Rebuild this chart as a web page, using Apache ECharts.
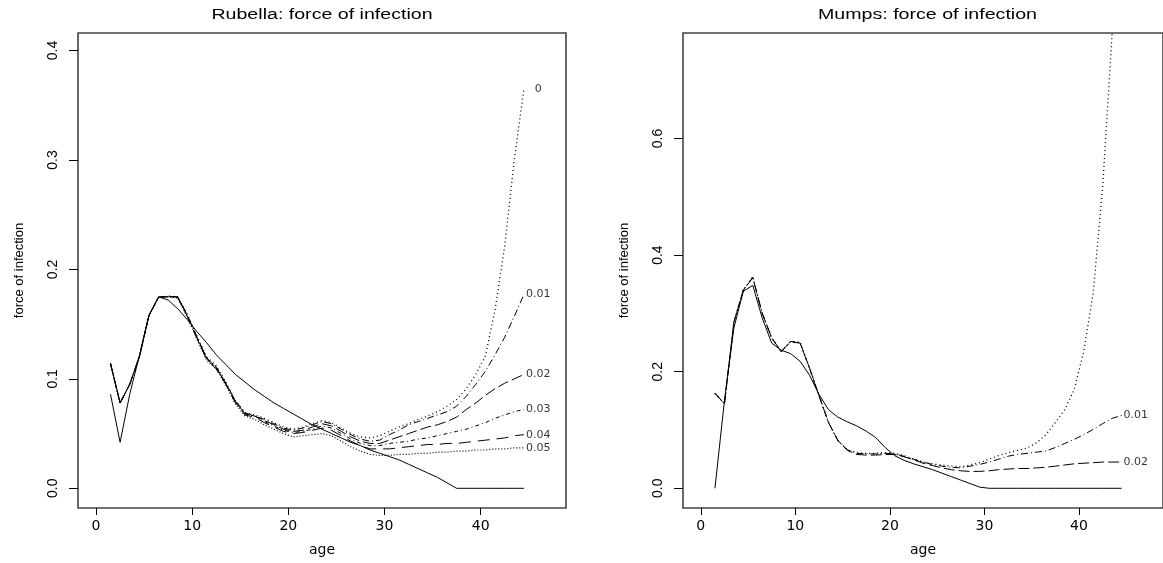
<!DOCTYPE html>
<html>
<head>
<meta charset="utf-8">
<title>Force of infection: rubella and mumps</title>
<script src="https://cdn.jsdelivr.net/npm/echarts@6/dist/echarts.min.js"></script>
<style>
  html, body { margin: 0; padding: 0; background: #fff; }
  #chart { width: 1163px; height: 563px; }
</style>
</head>
<body>
<div id="chart"></div>
<script>
// Age midpoints (years) at which every curve is evaluated
const ages = [1.5, 2.5, 3.5, 4.5, 5.5, 6.5, 7.5, 8.5, 9.5, 10.5, 11.5, 12.5, 13.5, 14.5,
  15.5, 16.5, 17.5, 18.5, 19.5, 20.5, 21.5, 22.5, 23.5, 24.5, 25.5, 26.5, 27.5, 28.5,
  29.5, 30.5, 31.5, 32.5, 33.5, 34.5, 35.5, 36.5, 37.5, 38.5, 39.5, 40.5, 41.5, 42.5,
  43.5, 44.5];

// Rubella: monotone (solid) fit
const rubellaMonotone = [0.086, 0.042, 0.086, 0.121, 0.158, 0.175, 0.172, 0.164, 0.154, 0.143,
  0.133, 0.122, 0.113, 0.104, 0.097, 0.090, 0.084, 0.078, 0.073, 0.068, 0.063, 0.058, 0.054,
  0.050, 0.046, 0.042, 0.039, 0.035, 0.032, 0.029, 0.026, 0.022, 0.018, 0.014, 0.010, 0.005,
  0.000, 0, 0, 0, 0, 0, 0, 0];

// Rubella: penalised fits, one per smoothing parameter
const rubellaPen000 = [0.114, 0.078, 0.095, 0.120, 0.158, 0.1745, 0.1755, 0.175, 0.159, 0.139,
  0.120, 0.112, 0.097, 0.080, 0.069, 0.067, 0.064, 0.060, 0.056, 0.054, 0.056, 0.059, 0.062,
  0.060, 0.055, 0.050, 0.047, 0.046, 0.048, 0.052, 0.056, 0.059, 0.063, 0.066, 0.070, 0.075,
  0.081, 0.091, 0.104, 0.121, 0.163, 0.221, 0.300, 0.365];
const rubellaPen001 = [0.114, 0.078, 0.095, 0.120, 0.158, 0.1745, 0.1755, 0.175, 0.158, 0.138,
  0.119, 0.111, 0.096, 0.080, 0.069, 0.066, 0.063, 0.059, 0.055, 0.053, 0.055, 0.058, 0.061,
  0.059, 0.054, 0.049, 0.045, 0.043, 0.044, 0.049, 0.053, 0.058, 0.061, 0.064, 0.067, 0.070,
  0.075, 0.084, 0.095, 0.107, 0.122, 0.138, 0.157, 0.177];
const rubellaPen002 = [0.114, 0.078, 0.095, 0.120, 0.158, 0.1745, 0.1755, 0.1745, 0.158, 0.138,
  0.119, 0.110, 0.096, 0.079, 0.068, 0.066, 0.062, 0.058, 0.054, 0.052, 0.053, 0.056, 0.059,
  0.057, 0.052, 0.047, 0.043, 0.041, 0.041, 0.044, 0.047, 0.050, 0.053, 0.056, 0.058, 0.061,
  0.065, 0.072, 0.078, 0.085, 0.091, 0.096, 0.100, 0.104];
const rubellaPen003 = [0.114, 0.078, 0.095, 0.120, 0.158, 0.1745, 0.175, 0.1745, 0.157, 0.137,
  0.118, 0.110, 0.095, 0.079, 0.068, 0.066, 0.061, 0.057, 0.053, 0.051, 0.052, 0.054, 0.057,
  0.055, 0.050, 0.045, 0.041, 0.039, 0.039, 0.041, 0.042, 0.043, 0.045, 0.046, 0.048, 0.050,
  0.052, 0.054, 0.057, 0.060, 0.064, 0.067, 0.070, 0.072];
const rubellaPen004 = [0.114, 0.078, 0.095, 0.120, 0.158, 0.1745, 0.175, 0.174, 0.157, 0.137,
  0.118, 0.109, 0.095, 0.078, 0.067, 0.065, 0.060, 0.056, 0.052, 0.050, 0.051, 0.053, 0.055,
  0.053, 0.048, 0.043, 0.039, 0.036, 0.036, 0.036, 0.037, 0.038, 0.039, 0.040, 0.040, 0.041,
  0.041, 0.042, 0.043, 0.044, 0.045, 0.046, 0.048, 0.049];
const rubellaPen005 = [0.114, 0.078, 0.095, 0.120, 0.158, 0.1745, 0.175, 0.174, 0.156, 0.136,
  0.117, 0.109, 0.094, 0.077, 0.066, 0.063, 0.058, 0.054, 0.050, 0.047, 0.048, 0.049, 0.050,
  0.048, 0.043, 0.038, 0.034, 0.031, 0.030, 0.030, 0.031, 0.031, 0.032, 0.032, 0.033, 0.033,
  0.034, 0.034, 0.035, 0.035, 0.036, 0.036, 0.037, 0.037];
const rubellaLambdas = ['0', '0.01', '0.02', '0.03', '0.04', '0.05'];

// Mumps: monotone (solid) fit
const mumpsMonotone = [0.000, 0.150, 0.275, 0.338, 0.348, 0.292, 0.249, 0.237, 0.231, 0.218,
  0.194, 0.161, 0.135, 0.122, 0.114, 0.107, 0.098, 0.087, 0.070, 0.056, 0.048, 0.042, 0.037,
  0.032, 0.026, 0.020, 0.014, 0.008, 0.002, 0, 0, 0, 0, 0, 0, 0, 0, 0, 0, 0, 0, 0, 0, 0];

// Mumps: penalised fits
const mumpsPen000 = [0.163, 0.145, 0.285, 0.340, 0.363, 0.300, 0.258, 0.234, 0.252, 0.251,
  0.207, 0.160, 0.113, 0.082, 0.066, 0.061, 0.060, 0.060, 0.061, 0.060, 0.056, 0.050, 0.045,
  0.042, 0.040, 0.038, 0.037, 0.040, 0.044, 0.050, 0.056, 0.061, 0.065, 0.069, 0.078, 0.092,
  0.113, 0.135, 0.170, 0.235, 0.335, 0.517, 0.780, 1.100];
const mumpsPen001 = [0.163, 0.145, 0.285, 0.340, 0.362, 0.300, 0.258, 0.234, 0.252, 0.250,
  0.206, 0.159, 0.113, 0.082, 0.066, 0.060, 0.059, 0.059, 0.060, 0.059, 0.055, 0.050, 0.045,
  0.041, 0.038, 0.036, 0.035, 0.038, 0.041, 0.045, 0.050, 0.055, 0.058, 0.060, 0.062, 0.064,
  0.070, 0.077, 0.084, 0.092, 0.101, 0.111, 0.120, 0.125];
const mumpsPen002 = [0.163, 0.145, 0.285, 0.340, 0.361, 0.300, 0.258, 0.235, 0.251, 0.249,
  0.206, 0.159, 0.113, 0.082, 0.065, 0.058, 0.057, 0.057, 0.058, 0.058, 0.054, 0.049, 0.043,
  0.039, 0.035, 0.032, 0.030, 0.029, 0.029, 0.030, 0.032, 0.033, 0.034, 0.034, 0.035, 0.036,
  0.038, 0.040, 0.042, 0.043, 0.044, 0.045, 0.045, 0.045];
const mumpsLambdas = ['0', '0.01', '0.02'];

// Tick marks
const ageTicks = [0, 10, 20, 30, 40];
const rubellaTicks = [0, 0.1, 0.2, 0.3, 0.4];
const mumpsTicks = [0, 0.2, 0.4, 0.6];

// ---- drawing ----
const labelAge = 46;          // where the smoothing-parameter labels sit
const dashStyles = [[1, 3], [7, 3, 1, 3], [11, 4], [4, 3, 1, 3], [12, 7], [1, 2]];
const dashWidths = [1.3, 1, 1, 1, 1, 1.2];
const xRange = { min: -1.88, max: 48.88 };
const rubellaRange = { min: -0.018, max: 0.416 };
const mumpsRange = { min: -0.0338, max: 0.781 };

function pairs(ys) { return ages.map((a, i) => [a, ys[i]]); }

function curve(ys, idx, dash, width) {
  return {
    type: 'line', xAxisIndex: idx, yAxisIndex: idx, data: pairs(ys),
    showSymbol: false, symbol: 'none', silent: true, clip: true,
    lineStyle: { color: '#000', width: width || 1, type: dash || 'solid' }
  };
}

function endLabels(series, names, idx, yMax) {
  const pts = [];
  series.forEach((ys, k) => {
    const v = ys[ys.length - 1];
    if (v <= yMax) pts.push([labelAge, v, names[k]]);
  });
  return {
    type: 'scatter', xAxisIndex: idx, yAxisIndex: idx, data: pts,
    symbolSize: 0, silent: true,
    label: {
      show: true, position: 'inside', formatter: p => p.value[2],
      color: '#000', fontSize: 11, fontFamily: 'DejaVu Sans'
    }
  };
}

function xAxis(idx) {
  return {
    type: 'value', gridIndex: idx, min: xRange.min, max: xRange.max,
    name: 'age', nameLocation: 'middle', nameGap: 35,
    nameTextStyle: { color: '#000', fontSize: 14, fontFamily: 'DejaVu Sans' },
    axisLine: { show: false, onZero: false },
    axisTick: { show: true, customValues: ageTicks, length: 7, lineStyle: { color: '#000' } },
    axisLabel: { customValues: ageTicks, color: '#000', fontSize: 14,
      fontFamily: 'DejaVu Sans', margin: 11 },
    splitLine: { show: false }
  };
}

function yAxis(idx, range, ticks) {
  return {
    type: 'value', gridIndex: idx, min: range.min, max: range.max,
    name: 'force of infection', nameLocation: 'middle', nameRotate: 90, nameGap: 52,
    nameTextStyle: { color: '#000', fontSize: 13, fontFamily: 'Liberation Sans' },
    axisLine: { show: false, onZero: false },
    axisTick: { show: true, customValues: ticks, length: 9, lineStyle: { color: '#000' } },
    axisLabel: { customValues: ticks, rotate: 90, color: '#000', fontSize: 14,
      fontFamily: 'Liberation Sans', margin: 18, formatter: v => v.toFixed(1) },
    splitLine: { show: false }
  };
}

function heading(text, cx) {
  return {
    type: 'text', x: cx, y: 15, scaleX: 1.4, silent: true,
    style: { text: text, fill: '#000', fontSize: 14, fontFamily: 'Liberation Sans',
      align: 'center', verticalAlign: 'middle' }
  };
}

const rubellaPen = [rubellaPen000, rubellaPen001, rubellaPen002, rubellaPen003, rubellaPen004, rubellaPen005];
const mumpsPen = [mumpsPen000, mumpsPen001, mumpsPen002];

const chart = echarts.init(document.getElementById('chart'), null, { renderer: 'canvas' });
chart.setOption({
  animation: false,
  backgroundColor: '#fff',
  grid: [
    { left: 78, top: 33, width: 488, height: 475, show: true, borderColor: '#444', borderWidth: 1.6, backgroundColor: 'transparent' },
    { left: 683, top: 33, width: 489, height: 475, show: true, borderColor: '#444', borderWidth: 1.6, backgroundColor: 'transparent' }
  ],
  xAxis: [xAxis(0), xAxis(1)],
  yAxis: [yAxis(0, rubellaRange, rubellaTicks), yAxis(1, mumpsRange, mumpsTicks)],
  graphic: [
    heading('Rubella: force of infection', 322),
    heading('Mumps: force of infection', 927.5)
  ],
  series: [
    curve(rubellaMonotone, 0),
    ...rubellaPen.map((ys, k) => curve(ys, 0, dashStyles[k], dashWidths[k])),
    endLabels(rubellaPen, rubellaLambdas, 0, rubellaRange.max),
    curve(mumpsMonotone, 1),
    ...mumpsPen.map((ys, k) => curve(ys, 1, dashStyles[k], dashWidths[k])),
    endLabels(mumpsPen, mumpsLambdas, 1, mumpsRange.max)
  ]
});
</script>
</body>
</html>
